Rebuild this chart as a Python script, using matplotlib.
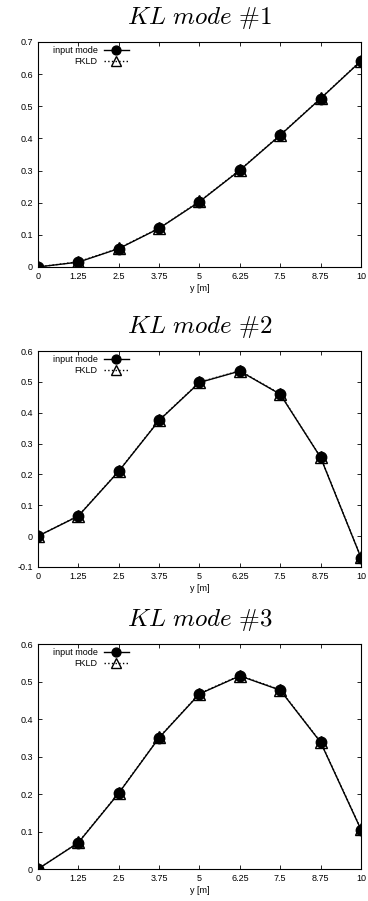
import numpy as np
from matplotlib import pyplot as plt

plt.rcParams['mathtext.fontset'] = 'cm'
plt.rcParams['font.family'] = 'Liberation Sans'

y_pos = [0, 1.25, 2.5, 3.75, 5, 6.25, 7.5, 8.75, 10]
x_ticklabels = ["0", "1.25", "2.5", "3.75", "5", "6.25", "7.5", "8.75", "10"]

mode1_input = [0.0, 0.015, 0.057, 0.120, 0.203, 0.301, 0.410, 0.524, 0.641]
mode1_fkld = [0.0, 0.016, 0.058, 0.121, 0.204, 0.302, 0.411, 0.525, 0.642]
mode2_input = [0.0, 0.065, 0.210, 0.375, 0.498, 0.535, 0.460, 0.255, -0.070]
mode2_fkld = [0.0, 0.066, 0.211, 0.376, 0.499, 0.536, 0.461, 0.256, -0.069]
mode3_input = [0.0, 0.070, 0.202, 0.350, 0.467, 0.515, 0.477, 0.338, 0.105]
mode3_fkld = [0.0, 0.071, 0.203, 0.351, 0.468, 0.516, 0.478, 0.339, 0.106]

titles = ["1", "2", "3"]
ylims = [(0, 0.7), (-0.1, 0.6), (0, 0.6)]
inputs = [mode1_input, mode2_input, mode3_input]
fklds = [mode1_fkld, mode2_fkld, mode3_fkld]

# axes boxes in figure fraction (left, bottom, width, height)
boxes = [(0.103, 0.7037, 0.878, 0.2497),
         (0.103, 0.3707, 0.878, 0.2397),
         (0.103, 0.0355, 0.878, 0.2497)]

fig = plt.figure(figsize=(3.68, 9.01), dpi=100)

for i in range(3):
    ax = fig.add_axes(boxes[i])
    ax.plot(y_pos, inputs[i], color='black', lw=1.0, marker='o', ms=7.5,
            label='input mode', zorder=3)
    ax.plot(y_pos, fklds[i], color='black', lw=1.0, ls=':', marker='^', ms=8,
            markerfacecolor='none', markeredgecolor='black', mew=1.0,
            label='FKLD', zorder=2)
    ax.set_xlim(0, 10)
    lo, hi = ylims[i]
    ax.set_ylim(lo, hi)
    ax.set_xticks(y_pos)
    ax.set_xticklabels(x_ticklabels)
    ax.set_yticks(np.round(np.arange(lo, hi + 0.001, 0.1), 1))
    ax.yaxis.set_major_formatter(plt.FuncFormatter(lambda v, p: "%g" % v))
    ax.tick_params(direction='in', top=True, right=True, labelsize=6.5,
                   length=3, width=0.6, pad=3.5)
    for s in ax.spines.values():
        s.set_linewidth(0.8)
    ax.set_xlabel("y [m]", fontsize=6.5, labelpad=2)
    ax.set_title(r"$\mathit{KL\ mode\ \#" + titles[i] + "}$", fontsize=18, pad=13)
    ax.legend(loc='upper left', bbox_to_anchor=(0.04, 0.99), frameon=False,
              fontsize=6.5, markerfirst=False, handlelength=2.8,
              borderaxespad=0.0, labelspacing=0.2, handletextpad=0.7,
              borderpad=0.2, markerscale=0.85)

fig.savefig("out.png", dpi=100)
